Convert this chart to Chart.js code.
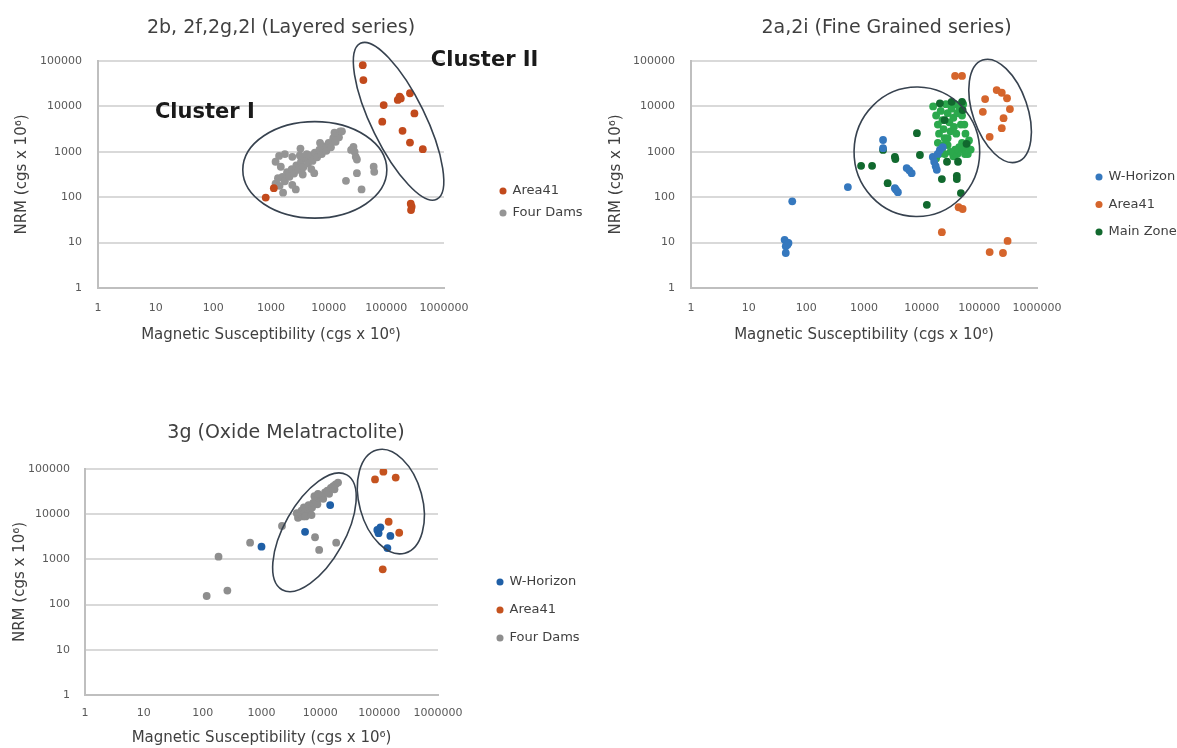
<!DOCTYPE html>
<html>
<head>
<meta charset="utf-8">
<script src="https://cdn.jsdelivr.net/npm/chart.js@4.4.1/dist/chart.umd.min.js"></script>
<style>
  html, body { margin: 0; padding: 0; background: #fff; overflow: hidden; }
  body { width: 1177px; height: 748px; position: relative; }
  canvas { position: absolute; }
</style>
</head>
<body>
<canvas id="layered"></canvas>
<canvas id="fine"></canvas>
<canvas id="oxide"></canvas>
<script>
const xTicks = [1, 10, 100, 1000, 10000, 100000, 1000000];
const yTicks = [1, 10, 100, 1000, 10000, 100000];

// 2b, 2f, 2g, 2l (Layered series)
const layeredArea41 = [
  [39000, 81000], [40000, 38000], [90000, 10700], [85000, 4600], [158000, 13900], [170000, 16500],
  [178000, 15000], [257000, 19500], [307000, 7000], [191000, 2900], [257000, 1600], [429000, 1140],
  [265000, 72], [275000, 62], [268000, 52], [810, 98], [1120, 158]
];
const layeredFourDams = [
  [1200, 200], [1320, 263], [1410, 178], [1580, 280], [1740, 224], [1900, 355], [2090, 282], [2290, 417],
  [2510, 331], [2750, 500], [3020, 398], [3310, 603], [3630, 457], [3980, 708], [4370, 550], [4790, 832],
  [5250, 631], [5750, 955], [6310, 759], [6920, 1120], [7590, 891], [8320, 1320], [9120, 1050], [10000, 1580],
  [10960, 1260], [12000, 2000], [13200, 1660], [14100, 2510], [15100, 2090], [12600, 2630], [15800, 2820],
  [17000, 2820], [5000, 417], [5620, 339], [3550, 316], [4170, 891], [3160, 832], [7080, 1580],
  [1200, 603], [1380, 813], [1740, 891], [2340, 776], [3240, 1175], [1480, 468],
  [1620, 126], [2690, 148], [2340, 186],
  [19950, 229], [30900, 339], [37200, 148], [60300, 468], [61700, 363], [26900, 1290], [28200, 1000],
  [29500, 776], [30900, 676], [24500, 1100]
];

// 2a, 2i (Fine Grained series)
const fineWHorizon = [
  [57, 81], [42, 11.5], [46, 10], [49, 9.8], [44, 8.3], [47, 9], [44, 5.9], [525, 167], [2140, 1820],
  [2140, 1200], [3430, 158], [3870, 129], [3600, 145], [5500, 437], [6700, 339], [6100, 390], [15600, 770],
  [16500, 600], [17500, 480], [18300, 400], [20700, 1100], [23200, 1270], [19000, 900]
];
const fineArea41 = [
  [38000, 46800], [50100, 46800], [126000, 14500], [115000, 7580], [200000, 22900], [245000, 20000],
  [302000, 15100], [339000, 8710], [263000, 5500], [245000, 3310], [151000, 2140], [43700, 60],
  [51300, 55], [22400, 17], [151000, 6.2], [257000, 5.9], [309000, 10.9]
];
const fineMainZone = [
  [890, 490], [1380, 490], [3430, 776], [3500, 690], [2570, 204], [8270, 2570], [9330, 851], [12300, 68],
  [22400, 251], [27500, 603], [42700, 603], [40700, 295], [40700, 251], [47900, 123], [2140, 1100],
  [20700, 11700], [33100, 12600], [50100, 12600], [51300, 8300], [25000, 5000], [60000, 1500]
];
const fineMainZoneCore = [
  [15800, 10000], [17800, 6310], [19100, 3980], [20000, 2510], [21400, 7940], [22900, 5010], [24000, 3160],
  [25100, 2000], [26300, 11200], [28200, 7080], [30200, 4470], [31600, 2820], [33100, 8910], [35500, 5620],
  [38000, 11200], [41700, 7080], [45700, 8910], [50100, 6310], [55000, 3980], [57500, 2510], [50100, 1580],
  [52500, 1120], [56200, 891], [60300, 1410], [63100, 891], [66100, 1780], [70800, 1120], [44700, 1260],
  [41700, 891], [38000, 1120], [35500, 794], [31600, 1000], [28200, 1410], [25100, 891], [22400, 1120],
  [20000, 891], [19100, 1580], [17800, 708], [47900, 3980], [52500, 11200], [28200, 2000], [24000, 1410],
  [39800, 2510], [36300, 3550]
];

// 3g (Oxide Melatractolite)
const oxideWHorizon = [
  [1000, 1910], [5500, 4070], [14700, 15900], [105000, 5130], [97700, 3800], [93000, 4470],
  [155000, 3310], [138000, 1780]
];
const oxideArea41 = [
  [85000, 58900], [118000, 87100], [191000, 64600], [145000, 6800], [219000, 3890], [115000, 603]
];
const oxideFourDams = [
  [117, 155], [263, 204], [186, 1150], [640, 2340], [2230, 5490], [8130, 3090], [9550, 1620], [18600, 2340],
  [4170, 8320], [4570, 10000], [5010, 8910], [4790, 12000], [5500, 11200], [6030, 13200], [5250, 14100],
  [6610, 11200], [6310, 15800], [7240, 14100], [7590, 17800], [8320, 20000], [8910, 16600], [9550, 22900],
  [10500, 25100], [11200, 21900], [12000, 30200], [13200, 33100], [14100, 28200], [15100, 38000],
  [16600, 41700], [18200, 45700], [20000, 50100], [17400, 35500], [7940, 25100], [9120, 28200],
  [5620, 8910], [7080, 9550], [3980, 10500]
];

const FONT = '"DejaVu Sans", sans-serif';
const LEGEND_SIZE = 13;
Chart.defaults.font.family = FONT;

const toPoints = arr => arr.map(p => ({ x: p[0], y: p[1] }));

function series(label, arr, color, extra) {
  return Object.assign({
    label: label,
    data: toPoints(arr),
    backgroundColor: color,
    borderColor: color,
    borderWidth: 0,
    pointRadius: 3.9,
    yAxisID: 'y'
  }, extra || {});
}

// ellipses and cluster names, placed in data units
const clusterPlugin = {
  id: 'clusters',
  afterDatasetsDraw(chart, args, opts) {
    const { ctx } = chart;
    const x = chart.scales.x, y = chart.scales.y;
    ctx.save();
    ctx.strokeStyle = '#37424F';
    ctx.lineWidth = 1.6;
    (opts.rings || []).forEach(r => {
      const cx = x.getPixelForValue(r.center[0]), cy = y.getPixelForValue(r.center[1]);
      const ex = x.getPixelForValue(r.end[0]), ey = y.getPixelForValue(r.end[1]);
      const a = Math.hypot(ex - cx, ey - cy);
      ctx.beginPath();
      ctx.ellipse(cx, cy, a, a * r.ratio, Math.atan2(ey - cy, ex - cx), 0, Math.PI * 2);
      ctx.stroke();
    });
    ctx.fillStyle = '#1A1A1A';
    ctx.font = 'bold 21px ' + FONT;
    ctx.textAlign = 'left';
    ctx.textBaseline = 'middle';
    (opts.labels || []).forEach(l => {
      ctx.fillText(l.text, x.getPixelForValue(l.at[0]), y.getPixelForValue(l.at[1]));
    });
    ctx.restore();
  }
};

// width Chart.js gives a vertical legend: padding + box + half font + longest text + 10
function legendWidth(datasets, gap) {
  const ctx = document.createElement('canvas').getContext('2d');
  ctx.font = LEGEND_SIZE + 'px ' + FONT;
  const w = Math.max(...datasets.filter(d => d.inLegend !== false).map(d => ctx.measureText(d.label).width));
  return gap + 6 + LEGEND_SIZE / 2 + w + 10;
}

// p holds page positions: plot left/right, title centre, legend left, y title centre
function buildChart(id, p) {
  const lw = legendWidth(p.datasets, p.legendGap);
  const end = p.legendLeft + lw;
  const start = 2 * p.titleCenter - end;
  const left = Math.floor(start);
  const canvas = document.getElementById(id);
  canvas.width = Math.ceil(end) - left;
  canvas.height = p.height;
  canvas.style.left = left + 'px';
  canvas.style.top = p.top + 'px';

  return new Chart(canvas, {
    type: 'scatter',
    data: { datasets: p.datasets },
    options: {
      responsive: false,
      animation: false,
      devicePixelRatio: 1,
      events: [],
      layout: { padding: { left: start - left, right: canvas.width - (end - left), top: 0, bottom: 0 } },
      scales: {
        x: {
          type: 'logarithmic',
          min: 1,
          max: 1000000,
          afterBuildTicks: s => { s.ticks = xTicks.map(v => ({ value: v })); },
          afterFit: s => { s.height = p.xAxisHeight; },
          grid: { display: false, drawTicks: false },
          border: { display: true, color: '#BFBFBF', width: 2 },
          ticks: {
            callback: v => String(v),
            padding: p.xTickPad,
            maxRotation: 0,
            autoSkip: false,
            color: '#595959',
            font: { size: 11 }
          },
          title: {
            display: true,
            text: 'Magnetic Susceptibility (cgs x 10⁶)',
            color: '#404040',
            font: { size: 15 },
            padding: { top: 0, bottom: p.xTitlePad }
          }
        },
        y: {
          type: 'logarithmic',
          min: 1,
          max: 100000,
          afterBuildTicks: s => { s.ticks = yTicks.map(v => ({ value: v })); },
          afterFit: s => { s.width = p.chartLeft - start; },
          grid: { color: '#D9D9D9', lineWidth: 2, drawTicks: false },
          border: { display: true, color: '#BFBFBF', width: 2 },
          ticks: {
            callback: v => String(v),
            padding: p.yTickPad,
            color: '#595959',
            font: { size: 11 }
          },
          title: {
            display: true,
            text: 'NRM (cgs x 10⁶)',
            color: '#404040',
            font: { size: 15 },
            padding: { top: p.yTitleX - start - 9, bottom: 0 }
          }
        },
        // empty band between the plot and the legend
        gap: {
          position: 'right',
          grid: { display: false, drawTicks: false },
          border: { display: false },
          ticks: { display: false },
          afterFit: s => { s.width = p.legendLeft - p.chartRight; }
        }
      },
      plugins: {
        title: {
          display: true,
          text: p.title,
          color: '#404040',
          font: { size: 19, weight: 'normal' },
          padding: { top: p.titleTop, bottom: p.titleBottom }
        },
        legend: {
          position: 'right',
          maxWidth: 1000,
          labels: {
            usePointStyle: true,
            pointStyle: 'circle',
            boxWidth: 6,
            boxHeight: 5,
            padding: p.legendGap,
            color: '#404040',
            font: { size: LEGEND_SIZE },
            filter: (item, data) => data.datasets[item.datasetIndex].inLegend !== false
          }
        },
        tooltip: { enabled: false },
        clusters: { rings: p.rings, labels: p.labels }
      }
    },
    plugins: [clusterPlugin]
  });
}

buildChart('layered', {
  title: '2b, 2f,2g,2l (Layered series)',
  datasets: [
    series('Area41', layeredArea41, '#C24A1C'),
    series('Four Dams', layeredFourDams, '#959595')
  ],
  top: 0, height: 404,
  chartLeft: 98, chartRight: 444, titleCenter: 281, legendLeft: 491, yTitleX: 22,
  yTickPad: 16, xAxisHeight: 116, xTickPad: 13.4, xTitlePad: 60,
  titleTop: 16.6, titleBottom: 21.6, legendGap: 9,
  rings: [
    { center: [5750, 400], end: [102000, 400], ratio: 0.67 },
    { center: [163000, 4700], end: [35500, 245000], ratio: 0.31 }
  ],
  labels: [
    { text: 'Cluster I', at: [9.7, 7160] },
    { text: 'Cluster II', at: [590000, 100000] }
  ]
});

buildChart('fine', {
  title: '2a,2i (Fine Grained series)',
  datasets: [
    series('W-Horizon', fineWHorizon, '#3578BE'),
    series('Area41', fineArea41, '#D5652C'),
    series('Main Zone', fineMainZone, '#11692E'),
    series('Main Zone', fineMainZoneCore, '#2BA84C', { inLegend: false })
  ],
  top: 0, height: 409,
  chartLeft: 691, chartRight: 1037, titleCenter: 886.5, legendLeft: 1081.5, yTitleX: 616,
  yTickPad: 16, xAxisHeight: 121, xTickPad: 13.4, xTitlePad: 65,
  titleTop: 16.6, titleBottom: 21.6, legendGap: 14.5,
  rings: [
    { center: [8260, 1000], end: [8600, 26700], ratio: 0.97 },
    { center: [229000, 7950], end: [114000, 105000], ratio: 0.51 }
  ],
  labels: []
});

buildChart('oxide', {
  title: '3g (Oxide Melatractolite)',
  datasets: [
    series('W-Horizon', oxideWHorizon, '#1F5FA6'),
    series('Area41', oxideArea41, '#C5531F'),
    series('Four Dams', oxideFourDams, '#8E8E8E')
  ],
  top: 400, height: 420,
  chartLeft: 85, chartRight: 438, titleCenter: 286, legendLeft: 482, yTitleX: 20,
  yTickPad: 15, xAxisHeight: 125, xTickPad: 11.4, xTitlePad: 73,
  titleTop: 21.6, titleBottom: 24.6, legendGap: 15,
  rings: [
    { center: [7940, 3970], end: [28200, 74000], ratio: 0.46 },
    { center: [158000, 19000], end: [91200, 263000], ratio: 0.59 }
  ],
  labels: []
});
</script>
</body>
</html>
